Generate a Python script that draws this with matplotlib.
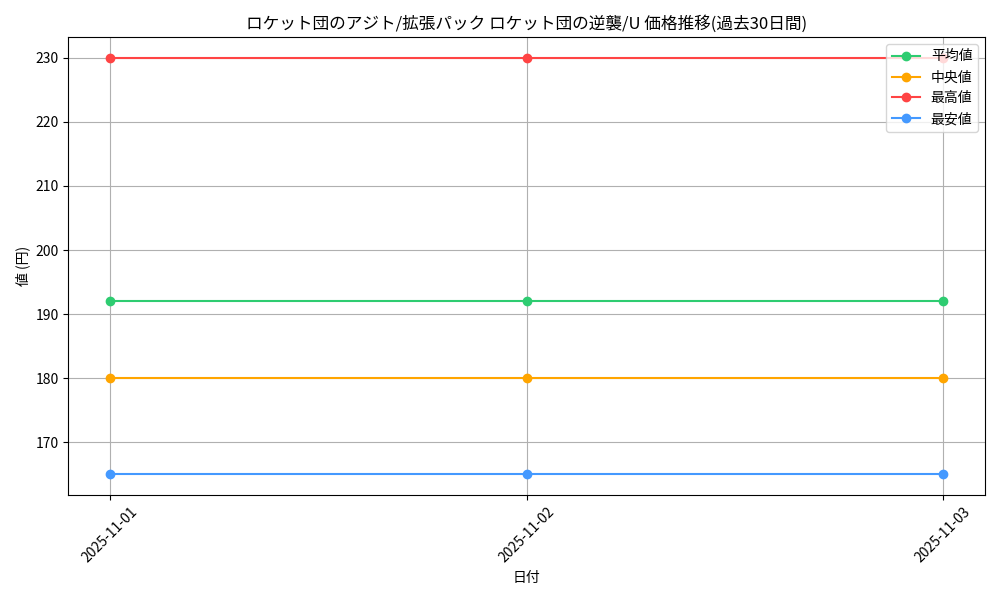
import matplotlib
matplotlib.use("Agg")
import matplotlib.pyplot as plt

plt.rcParams['font.family'] = ['Noto Sans CJK JP', 'DejaVu Sans']

dates = ["2025-11-01", "2025-11-02", "2025-11-03"]
avg_vals = [192, 192, 192]
median_vals = [180, 180, 180]
max_vals = [230, 230, 230]
min_vals = [165, 165, 165]

fig, ax = plt.subplots(figsize=(10, 6), dpi=100)
ax.plot(dates, avg_vals, marker='o', color='#2ecc71', label='平均値')
ax.plot(dates, median_vals, marker='o', color='#ffa500', label='中央値')
ax.plot(dates, max_vals, marker='o', color='#ff4444', label='最高値')
ax.plot(dates, min_vals, marker='o', color='#4499ff', label='最安値')

ax.set_title('ロケット団のアジト/拡張パック ロケット団の逆襲/U 価格推移(過去30日間)', fontsize=12)
ax.set_xlabel('日付')
ax.set_ylabel('値 (円)')
ax.grid(True)
ax.legend(loc='upper right')
plt.setp(ax.get_xticklabels(), rotation=45)
fig.tight_layout()
fig.savefig('out.png')
